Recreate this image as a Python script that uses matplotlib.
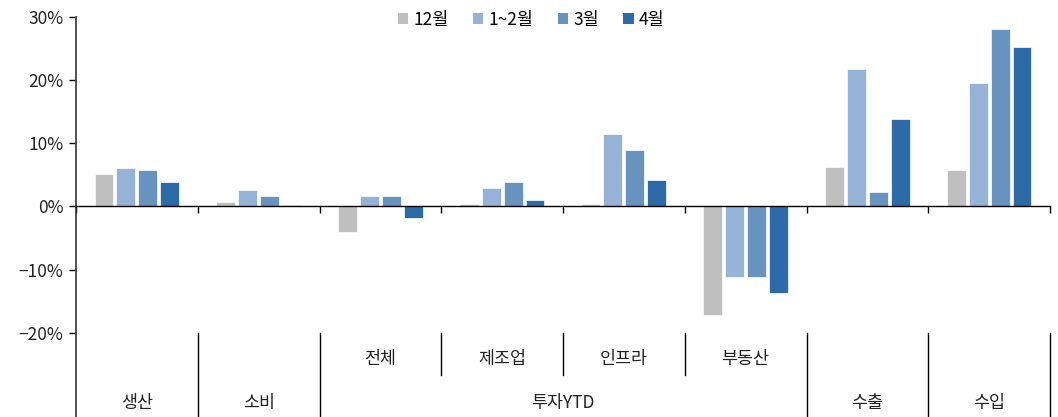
import numpy as np
import matplotlib
matplotlib.use("Agg")
import matplotlib.pyplot as plt
from matplotlib.transforms import blended_transform_factory
from matplotlib.patches import Patch

plt.rcParams['font.family'] = ['Noto Sans CJK KR', 'DejaVu Sans']

# data
groups = ["생산", "소비", "전체", "제조업", "인프라", "부동산", "수출", "수입"]
top_labels = ["생산", "소비", "투자YTD", "수출", "수입"]
series_names = ["12월", "1~2월", "3월", "4월"]
dec = [5.2, 0.7, -4.0, 0.4, 0.4, -17.2, 6.3, 5.7]
janfeb = [6.1, 2.6, 1.7, 3.0, 11.4, -11.2, 21.7, 19.5]
mar = [5.8, 1.7, 1.7, 3.9, 8.9, -11.2, 2.3, 28.0]
apr = [3.8, 0.3, -1.8, 1.1, 4.2, -13.7, 13.9, 25.2]
yticks = [-20, -10, 0, 10, 20, 30]

colors = ["#BFBFBF", "#95B3D7", "#6893BE", "#2C6BA8"]
fs = 12.5

W, H = 1058, 417
fig = plt.figure(figsize=(W / 100, H / 100), dpi=100)
ax_left, ax_right = 76 / W, 1050 / W
ax_bot, ax_top = 1 - 333 / H, 1 - 16.7 / H
ax = fig.add_axes([ax_left, ax_bot, ax_right - ax_left, ax_top - ax_bot])

x = np.arange(len(groups)) + 0.5
pitch, bw = 0.18, 0.155
for i, vals in enumerate([dec, janfeb, mar, apr]):
    ax.bar(x + (i - 1.5) * pitch, vals, width=bw, color=colors[i],
           edgecolor="white", linewidth=0.5, label=series_names[i], zorder=2)

ax.set_xlim(0, len(groups))
ax.set_ylim(-20, 30)
ax.set_yticks(yticks)
ax.set_yticklabels([f"{v}%".replace("-", "\u2212") for v in yticks], fontsize=fs, color="#222222")
ax.tick_params(axis="y", direction="out", length=5, width=1, pad=4)

for s in ["top", "right"]:
    ax.spines[s].set_visible(False)
ax.spines["bottom"].set_position(("data", 0))
ax.spines["bottom"].set_linewidth(1)
ax.spines["left"].set_linewidth(1.2)
ax.spines["left"].set_color("#333333")
ax.set_xticks(np.arange(len(groups) + 1))
ax.set_xticklabels([])
ax.tick_params(axis="x", direction="out", length=5, width=1)

# category area under the plot
trans = blended_transform_factory(ax.transData, fig.transFigure)
ax.plot([0, 0], [0, ax_bot], transform=trans, color="#333333", lw=1.2, clip_on=False)
for b in [1, 2, 6, 7, 8]:
    ax.plot([b, b], [0, ax_bot], transform=trans, color="black", lw=1, clip_on=False)
for b in [3, 4, 5]:
    ax.plot([b, b], [1 - 375 / H, ax_bot], transform=trans, color="black", lw=1, clip_on=False)

for i in range(2, 6):
    ax.text(x[i], 1 - 359 / H, groups[i], transform=trans, ha="center", va="center",
            fontsize=fs, color="#222222")
top_pos = [0.5, 1.5, 4.0, 6.5, 7.5]
for p, lab in zip(top_pos, top_labels):
    ax.text(p, 1 - 403 / H, lab, transform=trans, ha="center", va="center",
            fontsize=fs, color="#222222")

handles = [Patch(facecolor=c, edgecolor="none") for c in colors]
fig.legend(handles, series_names, loc="center", bbox_to_anchor=(531 / W, 1 - 20 / H),
           ncol=4, frameon=False, fontsize=fs, handlelength=0.6, handleheight=0.6,
           handletextpad=0.3, columnspacing=1.4)

fig.savefig("out.png", dpi=100)
